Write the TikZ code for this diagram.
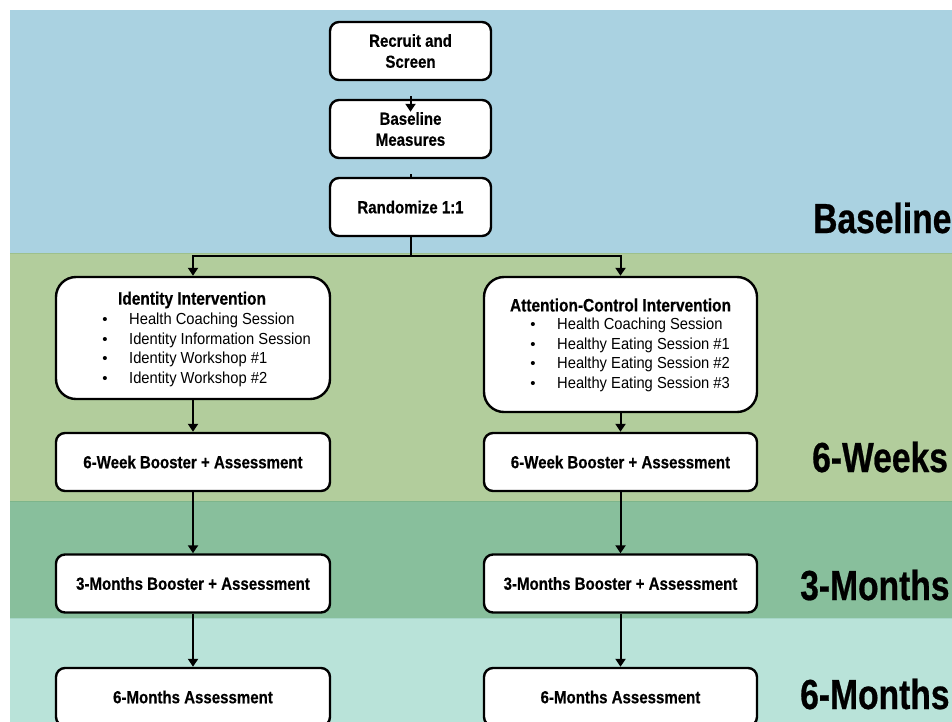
\documentclass[tikz,border=0pt]{standalone}
\usepackage{fontspec}
\setmainfont{Liberation Sans}
\newfontfamily\cnd[FakeStretch=0.86, BoldFeatures={FakeBold=0.5}]{Liberation Sans}
\newfontfamily\cndp[FakeStretch=0.8, BoldFeatures={FakeBold=0.6}]{Liberation Sans}
\newfontfamily\cndl[FakeStretch=0.92]{Liberation Sans}
\usetikzlibrary{arrows.meta}
\definecolor{bandA}{HTML}{AAD2E1}
\definecolor{bandB}{HTML}{B2CD9C}
\definecolor{bandC}{HTML}{88BF9C}
\definecolor{bandD}{HTML}{B9E3D9}
\definecolor{edgeB}{HTML}{9DC08C}
\definecolor{edgeC}{HTML}{7DB58B}
\definecolor{edgeD}{HTML}{A6D6C8}
\tikzset{
  box/.style={draw=black, line width=2.4pt, fill=white, rounded corners=9pt,
    minimum width=161pt, minimum height=58pt, align=center, inner sep=0pt,
    font=\cnd\bfseries\fontsize{17.5}{21}\selectfont},
  bigbox/.style={box, rounded corners=20pt},
  ttl/.style={inner sep=0pt, font=\cnd\bfseries\fontsize{18}{20}\selectfont},
  itm/.style={inner sep=0pt, anchor=west, font=\cndl\fontsize{16}{19}\selectfont},
  bul/.style={inner sep=0pt, font=\fontsize{15}{19}\selectfont},
  phase/.style={inner sep=0pt, anchor=base west, font=\cndp\bfseries\fontsize{42}{48}\selectfont},
  conn/.style={draw=black, line width=2pt},
  arr/.style={conn, -{Triangle[length=8pt,width=10pt]}}
}
\begin{document}
\begin{tikzpicture}[x=1pt,y=-1pt]
\useasboundingbox (0,0) rectangle (952,721);
\fill[white] (0,0) rectangle (952,721);
% bands
\fill[bandA] (10,10) rectangle (960,253);
\fill[bandB] (10,253) rectangle (960,501);
\fill[bandC] (10,501) rectangle (960,618);
\fill[bandD] (10,618) rectangle (960,730);
\draw[edgeB, line width=1pt] (10,253) -- (960,253);
\draw[edgeC, line width=1pt] (10,501) -- (960,501);
\draw[edgeD, line width=1pt] (10,618) -- (960,618);
% phase labels
\node[phase] (lblA) at (813,233) {Baseline};
\node[phase] (lblB) at (812,472) {6-Weeks};
\node[phase] (lblC) at (800,600) {3-Months};
\node[phase] (lblD) at (800,709) {6-Months};
% top column
\node[box] (rec) at (410.5,51) {Recruit and\\Screen};
\node[box] (base) at (410.5,129) {Baseline\\Measures};
\node[box] (rand) at (410.5,207) {Randomize 1:1};
% intervention boxes
\node[bigbox, minimum width=274pt, minimum height=122pt] (ident) at (193,338) {};
\node[bigbox, minimum width=273pt, minimum height=135pt] (att) at (620.5,344.5) {};
\node[ttl] (identT) at (192,300) {Identity Intervention};
\node[bul] (identB1) at (105,321) {•};
\node[bul] (identB2) at (105,341) {•};
\node[bul] (identB3) at (105,360) {•};
\node[bul] (identB4) at (105,380) {•};
\node[itm] (identI1) at (129,320) {Health Coaching Session};
\node[itm] (identI2) at (129,340) {Identity Information Session};
\node[itm] (identI3) at (129,359) {Identity Workshop \#1};
\node[itm] (identI4) at (129,379) {Identity Workshop \#2};
\node[ttl] (attT) at (620.5,305) {Attention-Control Intervention};
\node[bul] (attB1) at (533,326) {•};
\node[bul] (attB2) at (533,346) {•};
\node[bul] (attB3) at (533,365) {•};
\node[bul] (attB4) at (533,385) {•};
\node[itm] (attI1) at (557,325) {Health Coaching Session};
\node[itm] (attI2) at (557,345) {Healthy Eating Session \#1};
\node[itm] (attI3) at (557,364) {Healthy Eating Session \#2};
\node[itm] (attI4) at (557,384) {Healthy Eating Session \#3};
% follow-up boxes
\node[box, minimum width=274pt] (w6L) at (193,462) {6-Week Booster + Assessment};
\node[box, minimum width=273pt] (w6R) at (620.5,462) {6-Week Booster + Assessment};
\node[box, minimum width=274pt] (m3L) at (193,583.5) {3-Months Booster + Assessment};
\node[box, minimum width=273pt] (m3R) at (620.5,583.5) {3-Months Booster + Assessment};
\node[box, minimum width=274pt] (m6L) at (193,697) {6-Months Assessment};
\node[box, minimum width=273pt] (m6R) at (620.5,697) {6-Months Assessment};
% connectors
\coordinate (split) at (410.5,256);
\draw[arr] ([yshift=-15pt]rec.south) -- ([yshift=-13pt]base.north);
\draw[conn] ([yshift=-15pt]base.south) -- (rand.north);
\draw[conn] (rand.south) -- (split);
\draw[arr] (split) -| (ident.north);
\draw[arr] (split) -| (att.north);
\draw[arr] (ident.south) -- (w6L.north);
\draw[arr] (att.south) -- (w6R.north);
\draw[arr] (w6L.south) -- (m3L.north);
\draw[arr] (w6R.south) -- (m3R.north);
\draw[arr] (m3L.south) -- (m6L.north);
\draw[arr] (m3R.south) -- (m6R.north);
\end{tikzpicture}
\end{document}
